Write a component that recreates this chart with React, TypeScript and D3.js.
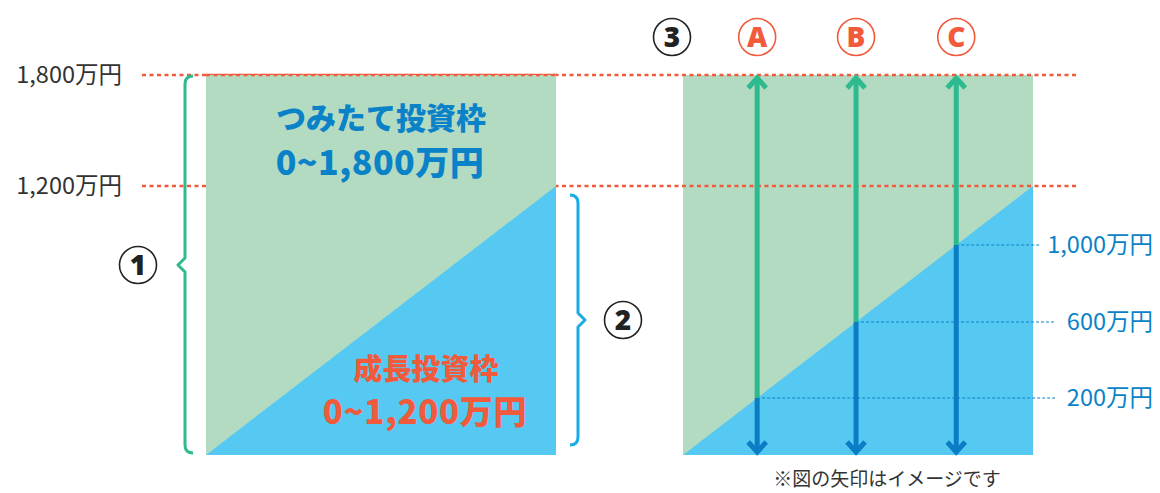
import * as d3 from "d3";

// values (万円)
const axisTicks = [1800, 1200];
const arrowNames = ["A", "B", "C"];
const arrowValues = [200, 600, 1000];
const frameLabels = ["つみたて投資枠", "0~1,800万円"];
const growthLabels = ["成長投資枠", "0~1,200万円"];
const note = "※図の矢印はイメージです";

const W = 1160;
const H = 493;
const FONT = "'Noto Sans CJK JP', 'Noto Sans', sans-serif";

const C = {
  green: "#b3dbc2",
  blue: "#56c9f3",
  red: "#f15a3b",
  teal: "#2dba8f",
  arrowBlue: "#0a7dc4",
  textBlue: "#0a82c8",
  brace2: "#17aee6",
  dark: "#333",
};

// illustrative (non-linear) value scale
const y = d3
  .scaleLinear()
  .domain([0, 200, 600, 1000, 1200, 1800])
  .range([455, 398, 322, 245, 186, 75]);

const panelW = 350;
const panels = [206, 683];

// diagonal: bottom-left corner up to 1,200 at right edge
const diagX = (x0: number, v: number) =>
  x0 + ((y(0) - y(v)) / (y(0) - y(1200))) * panelW;

function Panel({ x0 }: { x0: number }) {
  const x = d3.scaleLinear().domain([0, 1]).range([x0, x0 + panelW]);
  const tri = d3.line()([
    [x(0), y(0)],
    [x(1), y(1200)],
    [x(1), y(0)],
  ]);
  return (
    <g>
      <rect x={x(0)} y={y(1800)} width={panelW} height={y(0) - y(1800)} fill={C.green} />
      <path d={tri + "Z"} fill={C.blue} />
    </g>
  );
}

function Circled({ cx, cy, label, color }: { cx: number; cy: number; label: string; color: string }) {
  return (
    <g>
      <circle cx={cx} cy={cy} r={18.5} fill="#fff" stroke={color} strokeWidth={1.6} />
      <text
        x={cx}
        y={cy + 10}
        textAnchor="middle"
        fontSize={28}
        fontWeight={900}
        fill={color}
        fontFamily="'Liberation Sans Narrow', 'Noto Sans', sans-serif"
      >
        {label}
      </text>
    </g>
  );
}

function Arrow({ x, v }: { x: number; v: number }) {
  const top = y(1800) + 2;
  const bot = y(0) - 2;
  const yi = y(v);
  const head = (tipY: number, dir: number) =>
    d3.line()([
      [x - 9, tipY + dir * 11],
      [x, tipY + 1 * dir],
      [x + 9, tipY + dir * 11],
    ]);
  return (
    <g strokeWidth={5} fill="none">
      <line x1={x} x2={x} y1={top + 2} y2={yi} stroke={C.teal} />
      <line x1={x} x2={x} y1={yi} y2={bot - 2} stroke={C.arrowBlue} />
      <path d={head(top, 1) || ""} stroke={C.teal} />
      <path d={head(bot, -1) || ""} stroke={C.arrowBlue} />
    </g>
  );
}

export default function App() {
  const left = panels[0];
  const right = panels[1];
  const arrowXs = arrowValues.map((v) => diagX(right, v));

  const brace1 = d3.path();
  brace1.moveTo(193, y(1800) + 1);
  brace1.quadraticCurveTo(185, y(1800) + 1, 185, y(1800) + 9);
  brace1.lineTo(185, 258);
  brace1.lineTo(178, 265);
  brace1.lineTo(185, 272);
  brace1.lineTo(185, y(0) - 10);
  brace1.quadraticCurveTo(185, y(0) - 2, 193, y(0) - 2);

  const brace2 = d3.path();
  brace2.moveTo(570, 195);
  brace2.quadraticCurveTo(578, 195, 578, 203);
  brace2.lineTo(578, 313);
  brace2.lineTo(585, 320);
  brace2.lineTo(578, 327);
  brace2.lineTo(578, 437);
  brace2.quadraticCurveTo(578, 445, 570, 445);

  return (
    <svg
      width={W}
      height={H}
      style={{ position: "absolute", left: 0, top: 0, background: "#fff" }}
      fontFamily={FONT}
    >
      <Panel x0={right} />

      {/* dotted reference lines */}
      {axisTicks.map((t) => (
        <g key={t}>
          <line
            x1={142}
            x2={1078}
            y1={y(t)}
            y2={y(t)}
            stroke={C.red}
            strokeWidth={2.5}
            strokeDasharray="4 3.5"
          />
          <text x={122} y={y(t) + 8} textAnchor="end" fontSize={23.5} fill={C.dark}>
            {d3.format(",")(t)}万円
          </text>
        </g>
      ))}

      <Panel x0={left} />
      <line x1={left} x2={left + panelW} y1={y(1800)} y2={y(1800)} stroke={C.red} strokeWidth={2.5} strokeDasharray="4 3.5" />

      {/* labels inside left panel */}
      <text x={381} y={129} textAnchor="middle" fontSize={30} fontWeight={900} fill={C.textBlue}>
        {frameLabels[0]}
      </text>
      <text x={380} y={175} textAnchor="middle" fontSize={34} fontWeight={900} fill={C.textBlue} letterSpacing={0.5}>
        {frameLabels[1]}
      </text>
      <text x={426} y={380} textAnchor="middle" fontSize={29} fontWeight={900} fill={C.red}>
        {growthLabels[0]}
      </text>
      <text x={425} y={424} textAnchor="middle" fontSize={33} fontWeight={900} fill={C.red} letterSpacing={0.7}>
        {growthLabels[1]}
      </text>

      {/* braces */}
      <path d={brace1.toString()} fill="none" stroke={C.teal} strokeWidth={3} strokeLinejoin="round" />
      <path d={brace2.toString()} fill="none" stroke={C.brace2} strokeWidth={3} strokeLinejoin="round" />
      <Circled cx={138} cy={265} label="1" color="#222" />
      <Circled cx={623} cy={320} label="2" color="#222" />
      <Circled cx={672} cy={37} label="3" color="#222" />

      {/* value guides */}
      {arrowValues.map((v, i) => {
        const lbl = d3.format(",")(v) + "万円";
        const end = v >= 1000 ? 1040 : 1055;
        return (
          <g key={v}>
            <line
              x1={arrowXs[i]}
              x2={end}
              y1={y(v)}
              y2={y(v)}
              stroke={C.textBlue}
              strokeWidth={1.2}
              strokeDasharray="3 2"
            />
            <text x={1153} y={y(v) + 8} textAnchor="end" fontSize={23.5} fill={C.textBlue}>
              {lbl}
            </text>
          </g>
        );
      })}

      {/* arrows */}
      {arrowValues.map((v, i) => (
        <g key={arrowNames[i]}>
          <Arrow x={arrowXs[i]} v={v} />
          <Circled cx={arrowXs[i]} cy={37} label={arrowNames[i]} color={C.red} />
        </g>
      ))}

      <text x={887} y={486} textAnchor="middle" fontSize={19} fill={C.dark}>
        {note}
      </text>
    </svg>
  );
}
